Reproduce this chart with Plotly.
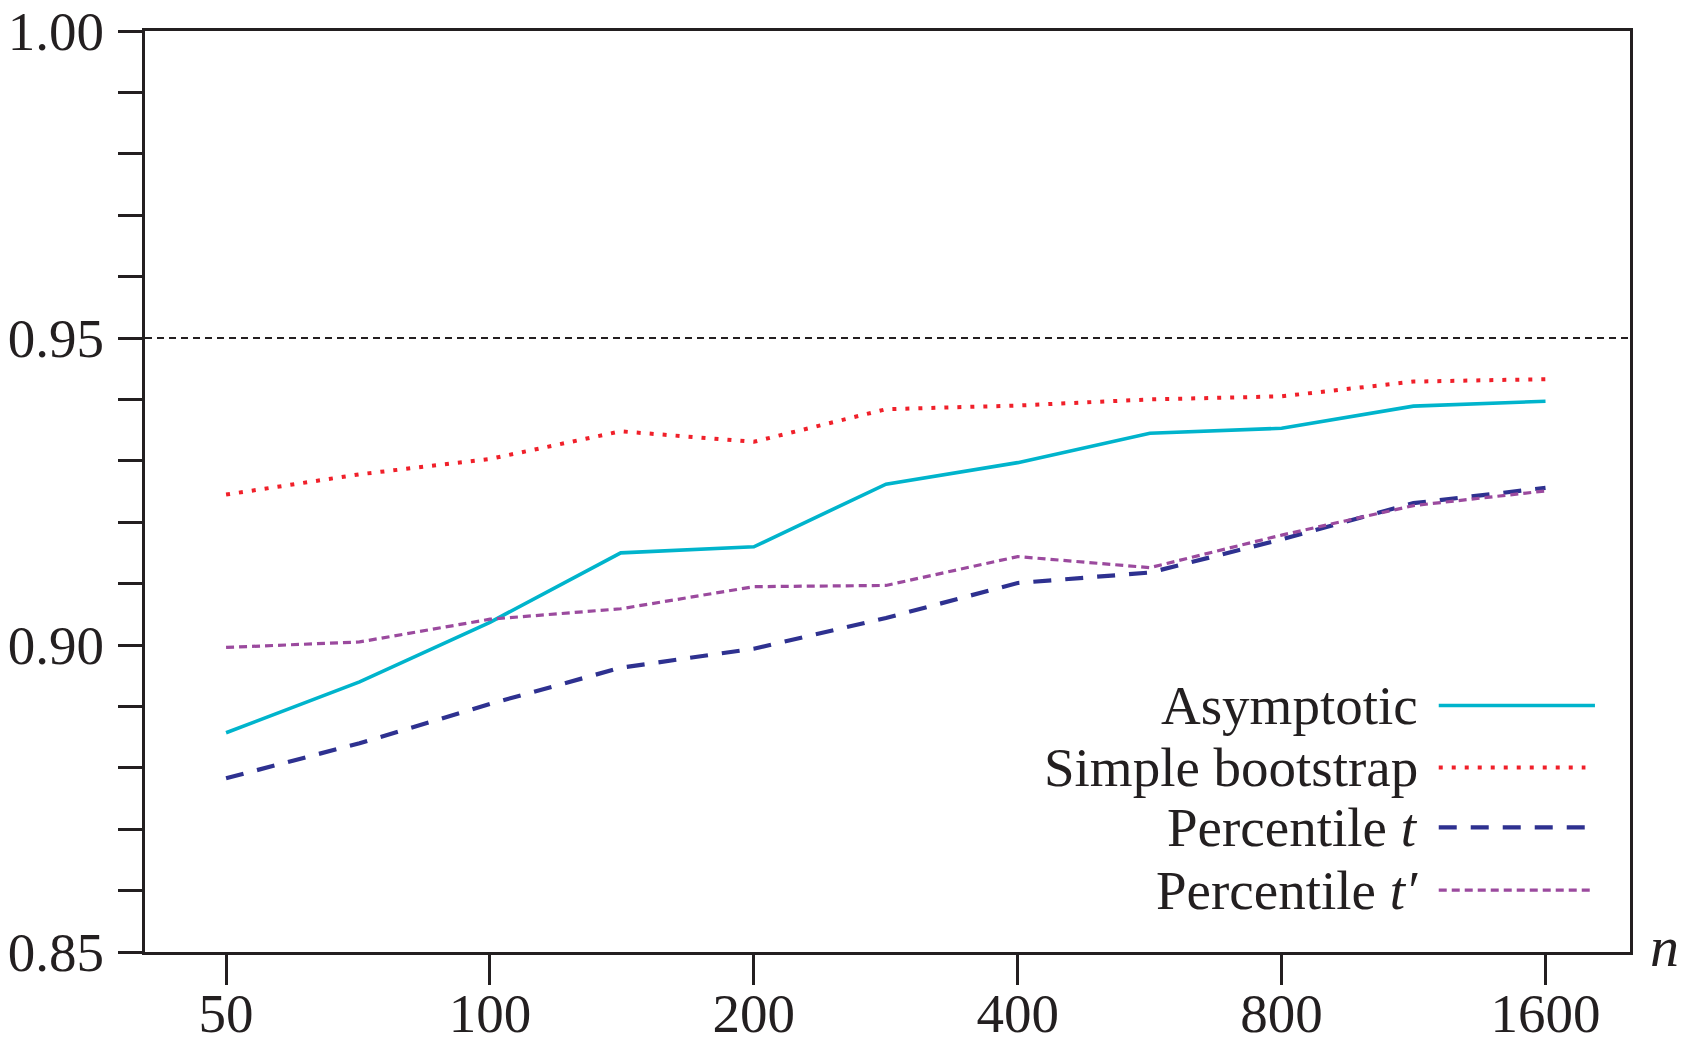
import plotly.graph_objects as go

n_values = [50, 71, 100, 141, 200, 283, 400, 566, 800, 1131, 1600]
asymptotic = [0.8857, 0.8940, 0.9037, 0.9150, 0.9160, 0.9262, 0.9297, 0.9345, 0.9353, 0.9389, 0.9397]
simple_bootstrap = [0.9245, 0.9278, 0.9303, 0.9348, 0.9331, 0.9384, 0.9390, 0.9400, 0.9405, 0.9429, 0.9433]
percentile_t = [0.8783, 0.8840, 0.8904, 0.8963, 0.8994, 0.9044, 0.9101, 0.9118, 0.9172, 0.9231, 0.9256]
percentile_t_prime = [0.8996, 0.9005, 0.9042, 0.9059, 0.9095, 0.9097, 0.9144, 0.9126, 0.9179, 0.9227, 0.9251]

x_tickvals = [50, 100, 200, 400, 800, 1600]
x_ticktext = ["50", "100", "200", "400", "800", "1600"]
y_tickvals = [0.85, 0.90, 0.95, 1.00]
y_ticktext = ["0.85", "0.90", "0.95", "1.00"]
target_level = 0.95

series_names = ["Asymptotic", "Simple bootstrap", "Percentile <i>t</i>", "Percentile <i>t′</i>"]
series_data = [asymptotic, simple_bootstrap, percentile_t, percentile_t_prime]
series_colors = ["#00b4cc", "#f0202a", "#2e3190", "#9b4a9e"]
series_dash = ["solid", "4px,9px", "18px,14px", "8px,5px"]
series_width = [3.6, 4, 4.2, 3.2]

FONT = "Liberation Serif"
INK = "#231f20"
FS = 55

fig = go.Figure()
for name, ys, col, dash, w in zip(series_names, series_data, series_colors, series_dash, series_width):
    fig.add_trace(go.Scatter(x=n_values, y=ys, mode="lines", name=name,
                             line=dict(color=col, dash=dash, width=w), showlegend=False))

# reference line at 0.95
fig.add_shape(type="line", xref="paper", x0=0, x1=1, yref="y", y0=target_level, y1=target_level,
              line=dict(color=INK, width=1.8, dash="7px,5px"), layer="below")

# manual legend (text left, sample right)
legend_y = [0.2676, 0.2004, 0.1354, 0.0672]
text_x = 0.8584
sample_x0 = 0.8712
sample_x1 = [0.9764, 0.9700, 0.9740, 0.9730]
for name, col, dash, w, ly, sx1 in zip(series_names, series_colors, series_dash, series_width, legend_y, sample_x1):
    fig.add_annotation(xref="paper", yref="paper", x=text_x, y=ly, text=name, showarrow=False,
                       xanchor="right", yanchor="middle",
                       font=dict(family=FONT, size=FS, color=INK))
    fig.add_shape(type="line", xref="paper", yref="paper", x0=sample_x0, x1=sx1, y0=ly, y1=ly,
                  line=dict(color=col, dash=dash, width=w))

fig.add_annotation(xref="paper", yref="paper", x=1.023, y=0.006, text="<i>n</i>", showarrow=False,
                   xanchor="center", yanchor="middle", font=dict(family=FONT, size=58, color=INK))

fig.update_xaxes(type="log", range=[1.6065, 3.3005], tickvals=x_tickvals, ticktext=x_ticktext,
                 ticks="outside", ticklen=30, tickwidth=3, tickcolor=INK,
                 showline=True, linewidth=3, linecolor=INK, mirror=True,
                 showgrid=False, zeroline=False, automargin=False, ticklabelstandoff=-19,
                 tickfont=dict(family=FONT, size=FS, color=INK))
fig.update_yaxes(range=[0.85, 1.00], tickvals=y_tickvals, ticktext=y_ticktext,
                 ticks="outside", ticklen=24, tickwidth=3, tickcolor=INK,
                 minor=dict(dtick=0.01, ticks="outside", ticklen=24, tickwidth=3, tickcolor=INK, showgrid=False),
                 showline=True, linewidth=3, linecolor=INK, mirror=True,
                 showgrid=False, zeroline=False, automargin=False, ticklabelstandoff=3,
                 tickfont=dict(family=FONT, size=FS, color=INK))

fig.update_layout(width=1687, height=1044, margin=dict(l=145, r=57, t=31, b=92),
                  plot_bgcolor="white", paper_bgcolor="white", showlegend=False)

fig.write_html("out.html")
